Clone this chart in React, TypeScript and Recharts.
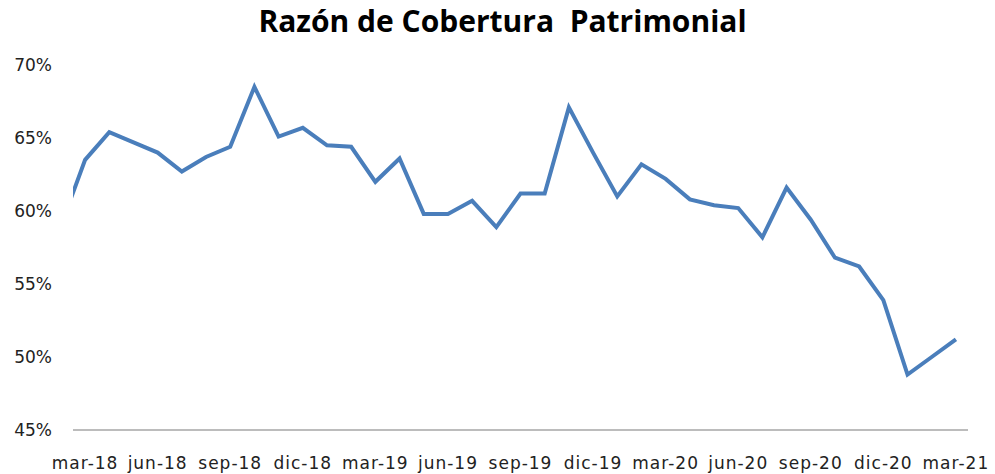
import React from "react";
import { LineChart, Line, XAxis, YAxis } from "recharts";

const months = [
  "feb-18", "mar-18", "abr-18", "may-18", "jun-18", "jul-18", "ago-18", "sep-18", "oct-18", "nov-18", "dic-18",
  "ene-19", "feb-19", "mar-19", "abr-19", "may-19", "jun-19", "jul-19", "ago-19", "sep-19", "oct-19", "nov-19", "dic-19",
  "ene-20", "feb-20", "mar-20", "abr-20", "may-20", "jun-20", "jul-20", "ago-20", "sep-20", "oct-20", "nov-20", "dic-20",
  "ene-21", "feb-21", "mar-21",
];

const ratio = [
  59.0, 63.5, 65.4, 64.7, 64.0, 62.7, 63.7, 64.4, 68.5, 65.1, 65.7,
  64.5, 64.4, 62.0, 63.6, 59.8, 59.8, 60.7, 58.9, 61.2, 61.2, 67.1, 64.0,
  61.0, 63.2, 62.2, 60.8, 60.4, 60.2, 58.2, 61.6, 59.4, 56.8, 56.2, 53.9,
  48.8, 50.0, 51.2,
];

const xTickLabels = [
  "mar-18", "jun-18", "sep-18", "dic-18", "mar-19", "jun-19", "sep-19",
  "dic-19", "mar-20", "jun-20", "sep-20", "dic-20", "mar-21",
];

const yTicks = [45, 50, 55, 60, 65, 70];

const title = "Razón de Cobertura  Patrimonial";

const data = months.map((m, i) => ({ i, month: m, value: ratio[i] }));
const xTicks = xTickLabels.map((l) => months.indexOf(l));

export default function App() {
  return (
    <div style={{ position: "fixed", left: 0, top: 0, width: 995, height: 474, background: "#fff" }}>
      <div
        style={{
          position: "absolute",
          left: 0,
          top: 1,
          width: 1005,
          textAlign: "center",
          fontFamily: "'Open Sans', sans-serif",
          fontWeight: 700,
          fontSize: 30,
          lineHeight: "40px",
          whiteSpace: "pre",
          color: "#000",
        }}
      >
        {title}
      </div>
      <LineChart width={995} height={474} data={data} margin={{ top: 65, right: 27, bottom: 0, left: 0 }}>
        <XAxis
          dataKey="i"
          type="number"
          domain={[0.5, 37.5]}
          allowDataOverflow
          ticks={xTicks}
          tickFormatter={(v: number) => months[v]}
          interval={0}
          height={44}
          tickLine={false}
          tickMargin={21}
          axisLine={{ stroke: "#a6a6a6", strokeWidth: 1.5 }}
          tick={{ fill: "#222", fontSize: 17, fontFamily: "'DejaVu Sans', sans-serif", letterSpacing: 1 }}
        />
        <YAxis
          type="number"
          domain={[45, 70]}
          ticks={yTicks}
          width={73}
          axisLine={false}
          tickLine={false}
          tickMargin={15}
          tickFormatter={(v: number) => `${v}%`}
          tick={{ fill: "#222", fontSize: 17, fontFamily: "'DejaVu Sans', sans-serif" }}
        />
        <Line
          type="linear"
          dataKey="value"
          stroke="#4a7ebb"
          strokeWidth={4}
          dot={false}
          isAnimationActive={false}
        />
      </LineChart>
    </div>
  );
}
